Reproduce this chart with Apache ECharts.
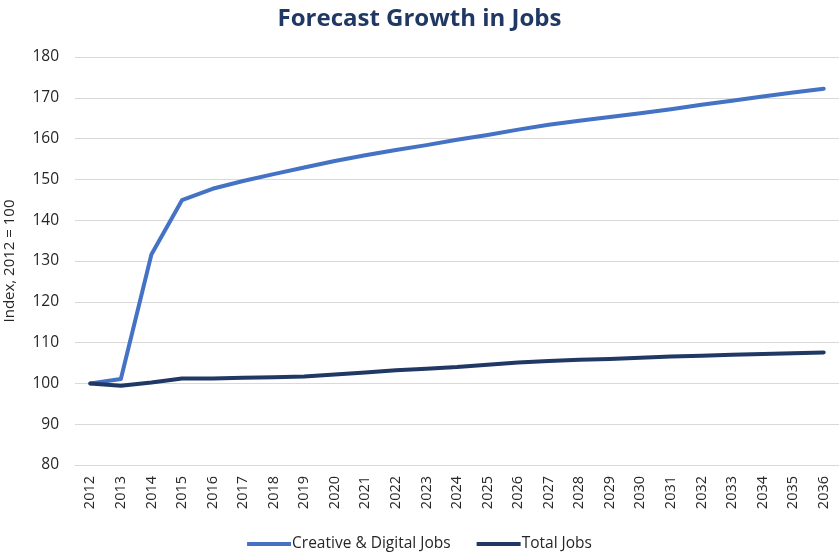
<!DOCTYPE html>
<html>
<head>
<meta charset="utf-8">
<script src="https://cdn.jsdelivr.net/npm/echarts@6/dist/echarts.min.js"></script>
<style>
  html, body { margin: 0; padding: 0; background: #fff; }
  #chart { width: 839px; height: 552px; }
</style>
</head>
<body>
<div id="chart"></div>
<script>
// Years on the category axis
const years = ['2012','2013','2014','2015','2016','2017','2018','2019','2020','2021','2022','2023','2024',
               '2025','2026','2027','2028','2029','2030','2031','2032','2033','2034','2035','2036'];

// Index values (2012 = 100)
const creativeDigitalJobs = [100, 101.1, 131.6, 144.9, 147.7, 149.6, 151.3, 152.9, 154.5, 155.9, 157.2, 158.4, 159.7,
                             160.9, 162.2, 163.4, 164.4, 165.3, 166.2, 167.2, 168.3, 169.3, 170.3, 171.3, 172.2];
const totalJobs = [100, 99.4, 100.2, 101.2, 101.2, 101.4, 101.5, 101.7, 102.2, 102.7, 103.2, 103.6, 104.0,
                   104.6, 105.1, 105.5, 105.8, 106.0, 106.3, 106.6, 106.8, 107.0, 107.2, 107.4, 107.6];

// Y axis range
const yMin = 80, yMax = 180, yStep = 10;

const fontFamily = '"Open Sans", "Liberation Sans", sans-serif';
const chart = echarts.init(document.getElementById('chart'), null, { renderer: 'canvas' });

chart.setOption({
  animation: false,
  title: {
    text: 'Forecast Growth in Jobs',
    left: 'center',
    top: 2,
    textStyle: { fontFamily, fontSize: 24, fontWeight: 'bold', color: '#1F3864' }
  },
  legend: {
    top: 531,
    left: 'center',
    itemWidth: 44,
    itemHeight: 4,
    itemGap: 26,
    icon: 'rect',
    textStyle: { fontFamily, fontSize: 15.5, color: '#262626', padding: [0, 0, 0, -4] },
    data: ['Creative & Digital Jobs', 'Total Jobs']
  },
  grid: { left: 75, right: 0, top: 57, bottom: 87, containLabel: false, outerBoundsMode: 'none' },
  xAxis: {
    type: 'category',
    data: years,
    boundaryGap: true,
    axisLine: { lineStyle: { color: '#d9d9d9', width: 1 } },
    axisTick: { show: false },
    axisLabel: { rotate: 90, fontFamily, fontSize: 14.5, color: '#262626', margin: 11, interval: 0 }
  },
  yAxis: {
    type: 'value',
    min: yMin, max: yMax, interval: yStep,
    name: 'Index, 2012 = 100',
    nameLocation: 'middle',
    nameGap: 58,
    nameRotate: 90,
    nameTextStyle: { fontFamily, fontSize: 15, color: '#262626' },
    axisLine: { show: false },
    axisTick: { show: false },
    axisLabel: { fontFamily, fontSize: 15.5, color: '#262626', margin: 16 },
    splitLine: { lineStyle: { color: '#d9d9d9', width: 1 } }
  },
  series: [
    {
      name: 'Creative & Digital Jobs',
      type: 'line',
      data: creativeDigitalJobs,
      symbol: 'none',
      lineStyle: { color: '#4472C4', width: 4, cap: 'round', join: 'round' },
      itemStyle: { color: '#4472C4' },
      z: 3
    },
    {
      name: 'Total Jobs',
      type: 'line',
      data: totalJobs,
      symbol: 'none',
      lineStyle: { color: '#1F3864', width: 4, cap: 'round', join: 'round' },
      itemStyle: { color: '#1F3864' },
      z: 4
    }
  ]
});
</script>
</body>
</html>
